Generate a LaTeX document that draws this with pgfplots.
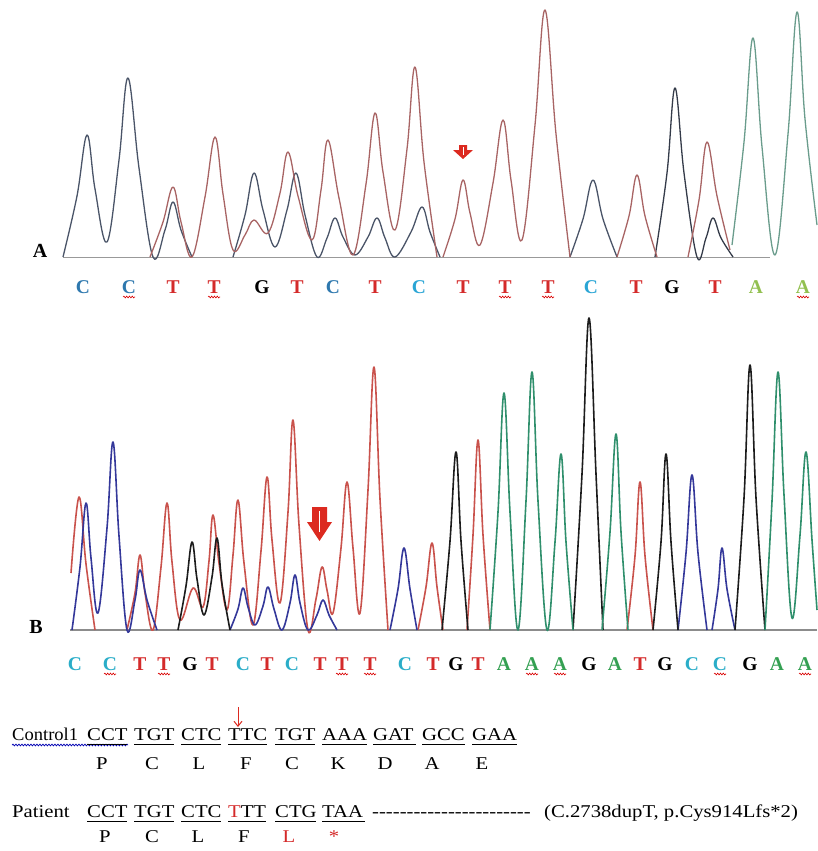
\documentclass[border=0pt]{standalone}
\usepackage{fontspec}
\setmainfont{Liberation Serif}
\usepackage{graphicx}
\usepackage{pgfplots}
\pgfplotsset{compat=1.18}
\usetikzlibrary{decorations.pathmorphing,arrows.meta}
\definecolor{dA}{HTML}{4A5468}
\definecolor{bA}{HTML}{A86464}
\definecolor{gA}{HTML}{6A9C8C}
\definecolor{rB}{HTML}{C9524C}
\definecolor{uB}{HTML}{34389A}
\definecolor{kB}{HTML}{1C1C1C}
\definecolor{gB}{HTML}{2F8F6C}
\definecolor{cA}{HTML}{2E78AE}
\definecolor{cA2}{HTML}{2AA5D5}
\definecolor{cB}{HTML}{2AADC8}
\definecolor{tR}{HTML}{D42A2A}
\definecolor{aA}{HTML}{92C050}
\definecolor{aB}{HTML}{34A052}
\definecolor{arr}{HTML}{DC2A20}
\newcommand{\BL}[4]{\node[anchor=base,inner sep=0pt,text=#3,font=\fontsize{19.5}{19.5}\selectfont\bfseries] at (axis cs:#1,#2) {#4};}
\newcommand{\WV}[2]{\draw[red!85!black,line width=0.6pt,decorate,decoration={snake,amplitude=0.9pt,segment length=2.8pt}] (axis cs:#1-6,#2) -- (axis cs:#1+6,#2);}
\newcommand{\TX}[4]{\node[anchor=base west,inner sep=0pt,text=#3,font=\fontsize{18}{18}\selectfont] at (axis cs:#1,#2) {\scalebox{1.15}[1]{#4}};}
\newcommand{\TC}[4]{\node[anchor=base,inner sep=0pt,text=#3,font=\fontsize{18}{18}\selectfont] at (axis cs:#1,#2) {\scalebox{1.15}[1]{#4}};}
\newcommand{\UL}[3]{\draw[black,line width=1pt] (axis cs:#1,#3) -- (axis cs:#2,#3);}
\begin{document}
\begin{tikzpicture}
\begin{axis}[
  width=817pt, height=851pt, scale only axis,
  xmin=0, xmax=817, ymin=0, ymax=851, y dir=reverse,
  hide axis, clip=false,
  every axis plot/.append style={mark=none, smooth, tension=0.62, line join=round},
]
% ---------------- Panel A ----------------
\addplot[color=black!40, line width=0.7pt, sharp plot] coordinates {(63,257) (770,257)};
% dark trace
\addplot[dA, line width=1.3pt] coordinates {(63,257) (77,196) (87,135) (95,189) (107,242) (119,160) (128,78) (139,168) (153,257) (165,230) (173,202) (181,230) (192,257)};
\addplot[dA, line width=1.3pt] coordinates {(233,257) (245,215) (254,173) (263,210) (275,247) (287,210) (296,173) (305,215) (317,257) (327,238) (335,218) (343,237) (355,255) (368,237) (377,218) (385,238) (395,257) (411,232) (422,207) (430,232) (440,257)};
\addplot[dA, line width=1.3pt] coordinates {(570,257) (583,219) (593,180) (603,219) (617,257)};
\addplot[dA!70!black, line width=1.3pt] coordinates {(655,257) (667,173) (675,88) (684,173) (697,257) (706,238) (713,218) (721,238) (733,257)};
% brown trace
\addplot[bA, line width=1.3pt] coordinates {(150,257) (163,222) (173,187) (181,222) (192,257) (205,197) (215,137) (223,194) (233,250) (245,235) (254,220) (268,233) (280,193) (288,152) (298,196) (312,240) (321,190) (328,140) (339,198) (353,255) (366,184) (375,113) (383,172) (395,230) (407,149) (415,67) (424,162) (437,257)};
\addplot[bA, line width=1.3pt] coordinates {(443,257) (455,219) (463,180) (470,213) (480,245) (493,183) (503,120) (511,180) (522,240) (535,125) (545,10) (556,134) (570,257)};
\addplot[bA, line width=1.3pt] coordinates {(617,257) (629,216) (637,175) (645,216) (657,257)};
\addplot[bA, line width=1.3pt] coordinates {(688,257) (699,200) (707,142) (717,196) (730,250)};
% green trace
\addplot[gA, line width=1.3pt] coordinates {(732,245) (744,142) (753,38) (762,147) (775,255) (788,134) (797,12) (805,119) (817,225)};
% ---------------- Panel B ----------------
\addplot[color=black!45, line width=1.2pt, sharp plot] coordinates {(70,630) (817,630)};
% red
\addplot[rB, line width=1.6pt] coordinates {(71,573) (79,497) (86,564) (95,630)};
\addplot[rB, line width=1.6pt] coordinates {(127,630) (135,593) (140,555) (145,593) (153,630) (161,567) (167,503) (172,562) (180,620) (193,588) (203,607) (209,561) (213,515) (219,563) (227,610) (233,555) (238,500) (244,563) (253,625) (261,551) (267,477) (272,540) (280,603) (288,512) (293,420) (299,525) (308,630) (316,599) (322,567) (327,590) (333,613) (341,548) (347,482) (353,548) (360,613) (368,490) (374,367) (380,499) (388,630)};
\addplot[rB, line width=1.6pt] coordinates {(418,630) (426,587) (432,543) (437,587) (443,630)};
\addplot[rB, line width=1.6pt] coordinates {(467,630) (473,535) (478,440) (483,535) (490,630)};
\addplot[rB, line width=1.6pt] coordinates {(627,630) (635,556) (640,482) (645,556) (653,630)};
% blue
\addplot[uB, line width=1.6pt] coordinates {(72,630) (80,567) (86,503) (91,558) (98,613) (107,528) (113,442) (119,536) (127,630) (135,600) (140,570) (147,600) (157,630)};
\addplot[uB, line width=1.6pt] coordinates {(230,630) (238,609) (243,588) (248,607) (255,625) (263,606) (268,587) (274,609) (282,630) (290,603) (295,575) (300,603) (308,630) (317,615) (323,600) (329,615) (337,630)};
\addplot[uB, line width=1.6pt] coordinates {(390,630) (398,589) (404,548) (410,589) (417,630)};
\addplot[uB, line width=1.6pt] coordinates {(678,630) (686,553) (692,475) (698,553) (707,630)};
\addplot[uB, line width=1.6pt] coordinates {(712,630) (718,589) (722,548) (727,589) (735,630)};
% black
\addplot[kB, line width=1.6pt] coordinates {(178,630) (186,586) (192,542) (197,579) (204,615) (212,577) (217,538) (222,584) (230,630)};
\addplot[kB, line width=1.6pt] coordinates {(442,630) (450,541) (456,452) (461,541) (468,630)};
\addplot[kB, line width=1.6pt] coordinates {(573,630) (582,474) (589,318) (596,474) (603,630)};
\addplot[kB, line width=1.6pt] coordinates {(653,630) (661,542) (666,454) (671,542) (678,630)};
\addplot[kB, line width=1.6pt] coordinates {(735,630) (744,498) (750,365) (756,498) (765,630)};
% green
\addplot[gB, line width=1.6pt] coordinates {(490,630) (498,512) (504,393) (510,512) (518,630) (526,501) (532,372) (538,501) (547,630) (555,542) (561,454) (566,542) (573,630)};
\addplot[gB, line width=1.6pt] coordinates {(602,630) (610,532) (616,434) (621,532) (628,630)};
\addplot[gB, line width=1.6pt] coordinates {(765,630) (772,501) (778,372) (784,495) (792,618) (800,535) (806,452) (812,540) (817,610)};
% block arrows
\fill[arr] (axis cs:459,145) -- (axis cs:467,145) -- (axis cs:467,150) -- (axis cs:473,150) -- (axis cs:463,159) -- (axis cs:453,150) -- (axis cs:459,150) -- cycle;
\draw[white, line width=0.7pt] (axis cs:463,147) -- (axis cs:463,155);
\fill[arr] (axis cs:312,507) -- (axis cs:327,507) -- (axis cs:327,522) -- (axis cs:332,522) -- (axis cs:319.5,541) -- (axis cs:307,522) -- (axis cs:312,522) -- cycle;
\draw[white, line width=0.9pt] (axis cs:319.5,511) -- (axis cs:319.5,532);
% panel labels
\node[anchor=base,inner sep=0pt,font=\fontsize{20}{20}\selectfont\bfseries] at (axis cs:40,257) {A};
\node[anchor=base,inner sep=0pt,font=\fontsize{20}{20}\selectfont\bfseries] at (axis cs:36,633) {B};
% base calls A
\BL{83}{293}{cA}{C} \BL{129}{293}{cA}{C} \BL{173}{293}{tR}{T} \BL{214}{293}{tR}{T}
\BL{262}{293}{black}{G} \BL{297}{293}{tR}{T} \BL{333}{293}{cA}{C} \BL{375}{293}{tR}{T}
\BL{419}{293}{cA2}{C} \BL{463}{293}{tR}{T} \BL{505}{293}{tR}{T} \BL{548}{293}{tR}{T}
\BL{591}{293}{cA2}{C} \BL{636}{293}{tR}{T} \BL{672}{293}{black}{G} \BL{715}{293}{tR}{T}
\BL{756}{293}{aA}{A} \BL{803}{293}{aA}{A}
\WV{129}{297} \WV{214}{297} \WV{505}{297} \WV{548}{297} \WV{803}{297}
% base calls B
\BL{75}{670}{cB}{C} \BL{110}{670}{cB}{C} \BL{140}{670}{tR}{T} \BL{164}{670}{tR}{T}
\BL{190}{670}{black}{G} \BL{212}{670}{tR}{T} \BL{243}{670}{cB}{C} \BL{267}{670}{tR}{T}
\BL{292}{670}{cB}{C} \BL{320}{670}{tR}{T} \BL{342}{670}{tR}{T} \BL{370}{670}{tR}{T}
\BL{405}{670}{cB}{C} \BL{433}{670}{tR}{T} \BL{456}{670}{black}{G} \BL{478}{670}{tR}{T}
\BL{504}{670}{aB}{A} \BL{532}{670}{aB}{A} \BL{560}{670}{aB}{A} \BL{589}{670}{black}{G}
\BL{615}{670}{aB}{A} \BL{640}{670}{tR}{T} \BL{665}{670}{black}{G} \BL{692}{670}{cB}{C}
\BL{720}{670}{cB}{C} \BL{750}{670}{black}{G} \BL{777}{670}{aB}{A} \BL{805}{670}{aB}{A}
\WV{110}{674} \WV{164}{674} \WV{342}{674} \WV{370}{674} \WV{532}{674} \WV{560}{674} \WV{720}{674} \WV{805}{674}
% ---------------- sequence text ----------------
\draw[-{Straight Barb[length=5pt,width=8pt]}, color=arr, line width=1pt] (axis cs:238,707) -- (axis cs:238,727);
\node[anchor=base west,inner sep=0pt,font=\fontsize{18}{18}\selectfont] at (axis cs:12,740) {\scalebox{1.03}[1]{Control1}};
\TX{87}{740}{black}{CCT} \TX{134}{740}{black}{TGT} \TX{181}{740}{black}{CTC}
\TX{228}{740}{black}{TTC} \TX{275}{740}{black}{TGT} \TX{322}{740}{black}{AAA}
\TX{373}{740}{black}{GAT} \TX{422}{740}{black}{GCC} \TX{472}{740}{black}{GAA}
\draw[blue!70!black, line width=0.7pt, decorate, decoration={snake,amplitude=0.9pt,segment length=3pt}] (axis cs:12,745) -- (axis cs:128,745);
\UL{87}{127}{744} \UL{134}{174}{744} \UL{181}{221}{744} \UL{228}{267}{744} \UL{275}{315}{744}
\UL{322}{367}{744} \UL{373}{416}{744} \UL{422}{465}{744} \UL{472}{517}{744}
\TC{102}{769}{black}{P} \TC{152}{769}{black}{C} \TC{199}{769}{black}{L} \TC{246}{769}{black}{F}
\TC{292}{769}{black}{C} \TC{338}{769}{black}{K} \TC{385}{769}{black}{D} \TC{432}{769}{black}{A} \TC{482}{769}{black}{E}
\TX{12}{817}{black}{Patient}
\TX{87}{817}{black}{CCT} \TX{134}{817}{black}{TGT} \TX{181}{817}{black}{CTC}
\TX{228}{817}{black}{{\color{tR}T}TT} \TX{275}{817}{black}{CTG} \TX{322}{817}{black}{TAA}
\TX{372}{817}{black}{-{}-{}-{}-{}-{}-{}-{}-{}-{}-{}-{}-{}-{}-{}-{}-{}-{}-{}-{}-{}-{}-{}-}
\TX{544}{817}{black}{(C.2738dupT, p.Cys914Lfs*2)}
\UL{87}{127}{821} \UL{134}{174}{821} \UL{181}{221}{821} \UL{228}{266}{821} \UL{275}{316}{821} \UL{322}{365}{821}
\TC{105}{842}{black}{P} \TC{152}{842}{black}{C} \TC{198}{842}{black}{L} \TC{244}{842}{black}{F}
\TC{289}{842}{tR}{L} \TC{334}{842}{tR}{*}
\end{axis}
\pgfresetboundingbox
\path (current axis.south west) rectangle (current axis.north east);
\end{tikzpicture}
\end{document}
